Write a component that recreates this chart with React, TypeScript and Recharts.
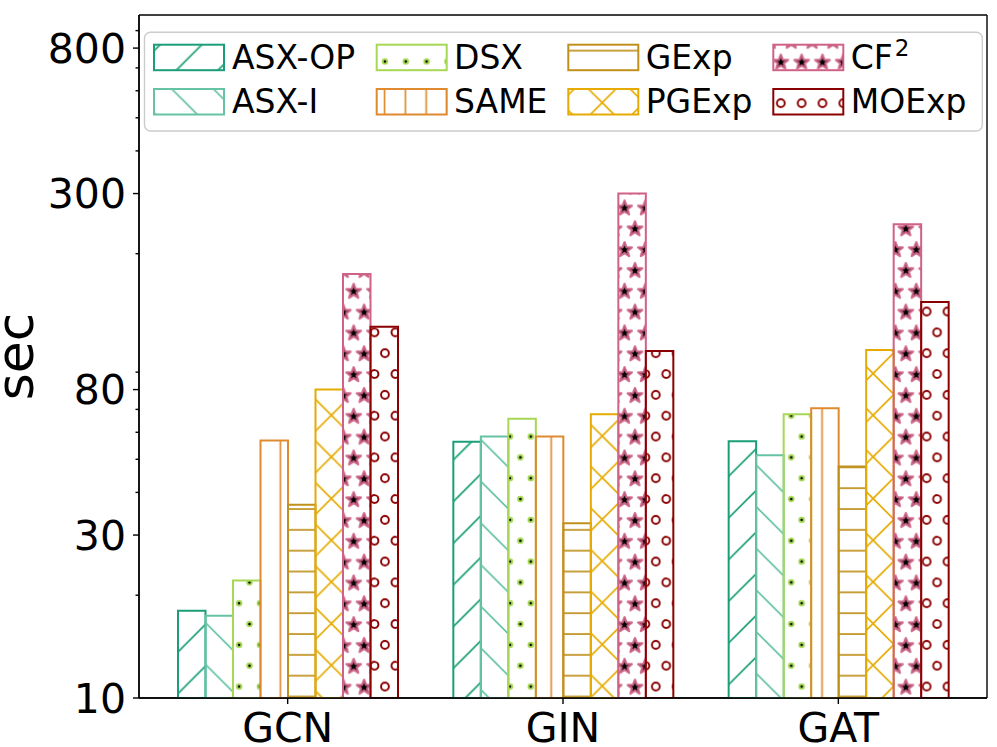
import React from 'react';
import { BarChart, Bar, XAxis, YAxis, CartesianGrid } from 'recharts';

const W = 997;
const H = 747;
const FONT = 'DejaVu Sans';

// values (seconds)
const categories = ['GCN', 'GIN', 'GAT'];
const asxOp = [18.0, 56.3, 56.5];
const asxI = [17.4, 58.3, 51.4];
const dsx = [22.1, 65.7, 67.7];
const same = [56.8, 58.3, 70.5];
const gexp = [36.8, 32.5, 47.6];
const pgexp = [80.1, 67.7, 104.4];
const cf2 = [174.3, 300.2, 244.1];
const moexp = [122.2, 103.7, 144.3];

const majorTicks = [10, 30, 80, 300, 800];
const minorTicks = [20, 40, 50, 60, 70, 90, 200, 400, 500, 600, 700, 900];

type Hatch = 'ne' | 'se' | 'dot' | 'vert' | 'horiz' | 'cross' | 'star' | 'ring';

const series: { key: string; name: string; sup?: string; color: string; hatch: Hatch; values: number[] }[] = [
  { key: 'asxOp', name: 'ASX-OP', color: '#1b9e77', hatch: 'ne', values: asxOp },
  { key: 'asxI', name: 'ASX-I', color: '#66c2a5', hatch: 'se', values: asxI },
  { key: 'dsx', name: 'DSX', color: '#a6d854', hatch: 'dot', values: dsx },
  { key: 'same', name: 'SAME', color: '#df8a2e', hatch: 'vert', values: same },
  { key: 'gexp', name: 'GExp', color: '#c0901c', hatch: 'horiz', values: gexp },
  { key: 'pgexp', name: 'PGExp', color: '#e6ab02', hatch: 'cross', values: pgexp },
  { key: 'cf2', name: 'CF', sup: '2', color: '#cf6285', hatch: 'star', values: cf2 },
  { key: 'moexp', name: 'MOExp', color: '#8b0000', hatch: 'ring', values: moexp },
];

const data = categories.map((name, i) => {
  const row: Record<string, string | number> = { name };
  series.forEach((s) => { row[s.key] = s.values[i]; });
  return row;
});

// hatch geometry (figure-aligned, like matplotlib)
const P = 41.67;
const Q = P / 2;
const OX = -0.5;
const OY = -1;
const NE_PHASE = -3.5;
const SE_PHASE = -0.5;
const V_PHASE = 9.5;
const H_PHASE = 9;
const HW = 1.7;

function latticePoints() {
  const pts: [number, number][] = [];
  for (let i = -1; i <= 1; i++) {
    for (let j = -1; j <= 1; j++) {
      pts.push([OX + i * Q, OY + j * P]);
      pts.push([OX + Q / 2 + i * Q, OY + P / 2 + j * P]);
    }
  }
  return pts;
}

function starPath(cx: number, cy: number, R: number, r: number) {
  let d = '';
  for (let k = 0; k < 10; k++) {
    const a = -Math.PI / 2 + (k * Math.PI) / 5;
    const rad = k % 2 === 0 ? R : r;
    d += `${k === 0 ? 'M' : 'L'}${(cx + rad * Math.cos(a)).toFixed(2)},${(cy + rad * Math.sin(a)).toFixed(2)}`;
  }
  return d + 'Z';
}

function neLines(color: string) {
  const out = [];
  for (let k = -2; k <= 3; k++) {
    const c = NE_PHASE + k * P;
    out.push(<line key={'ne' + k} x1={-5} y1={c + 5} x2={P + 5} y2={c - P - 5} stroke={color} strokeWidth={HW} />);
  }
  return out;
}

function seLines(color: string) {
  const out = [];
  for (let k = -2; k <= 2; k++) {
    const c = SE_PHASE + k * P;
    out.push(<line key={'se' + k} x1={-5} y1={-5 - c} x2={P + 5} y2={P + 5 - c} stroke={color} strokeWidth={HW} />);
  }
  return out;
}

function HatchPattern({ id, color, hatch }: { id: string; color: string; hatch: Hatch }) {
  const common = { id, patternUnits: 'userSpaceOnUse' as const, x: 0, y: 0 };
  if (hatch === 'ne') return <pattern {...common} width={P} height={P}>{neLines(color)}</pattern>;
  if (hatch === 'se') return <pattern {...common} width={P} height={P}>{seLines(color)}</pattern>;
  if (hatch === 'cross') return <pattern {...common} width={P} height={P}>{neLines(color)}{seLines(color)}</pattern>;
  if (hatch === 'vert')
    return (
      <pattern {...common} width={Q} height={Q}>
        <line x1={V_PHASE} y1={-1} x2={V_PHASE} y2={Q + 1} stroke={color} strokeWidth={HW} />
      </pattern>
    );
  if (hatch === 'horiz')
    return (
      <pattern {...common} width={Q} height={Q}>
        <line x1={-1} y1={H_PHASE} x2={Q + 1} y2={H_PHASE} stroke={color} strokeWidth={HW} />
      </pattern>
    );
  const pts = latticePoints();
  if (hatch === 'dot')
    return (
      <pattern {...common} width={Q} height={P}>
        {pts.map(([x, y], i) => <circle key={i} cx={x} cy={y} r={2.3} fill="#000" stroke={color} strokeWidth={2} />)}
      </pattern>
    );
  if (hatch === 'ring')
    return (
      <pattern {...common} width={Q} height={P}>
        {pts.map(([x, y], i) => <circle key={i} cx={x} cy={y} r={3.9} fill="none" stroke={color} strokeWidth={1.9} />)}
      </pattern>
    );
  return (
    <pattern {...common} width={Q} height={P}>
      {pts.map(([x, y], i) => (
        <path key={i} d={starPath(x, y + 0.8, 7.6, 3.2)} fill="#000" stroke={color} strokeOpacity={0.9} strokeWidth={2.4} strokeLinejoin="round" />
      ))}
    </pattern>
  );
}

const YTick = (props: any) => {
  const { x, y, payload } = props;
  const v = payload.value;
  const major = majorTicks.includes(v);
  const ax = x + 13;
  return (
    <g>
      <line x1={ax - (major ? 6 : 3.5)} x2={ax} y1={y} y2={y} stroke="#000" strokeWidth={1.4} />
      {major && (
        <text x={x} y={y} dy="0.355em" textAnchor="end" fontSize={41} fontFamily={FONT} fill="#000">
          {v}
        </text>
      )}
    </g>
  );
};

const SecLabel = (props: any) => {
  const vb = props.viewBox;
  const cx = vb.x + 33;
  const cy = vb.y + vb.height / 2;
  return (
    <text x={cx} y={cy} transform={`rotate(-90 ${cx} ${cy})`} textAnchor="middle" fontSize={52} fontFamily={FONT} fill="#000">
      sec
    </text>
  );
};

// plot frame: lines at the edges of the plotting area
const frameH = ({ offset }: any) => [offset.top, offset.top + offset.height];
const frameV = ({ offset }: any) => [offset.left, offset.left + offset.width];

// legend layout (matplotlib ncol=4, column-major)
const legendPatchX = [154, 376.7, 568.3, 773.3];
const legendTextX = [232, 454, 645.7, 850.7];
const legendRowY = [44.7, 89];

const LegendOverlay = () => (
  <svg width={W} height={H} style={{ position: 'absolute', left: 0, top: 0, pointerEvents: 'none' }}>
    <defs>
      {series.map((s) => (
        <HatchPattern key={s.key} id={`hatch-${s.key}`} color={s.color} hatch={s.hatch} />
      ))}
    </defs>
    <rect x={144.5} y={32.3} width={837.8} height={98.7} rx={6} fill="#fff" fillOpacity={0.8} stroke="#cccccc" strokeWidth={1.4} />
    {series.map((s, i) => {
      const col = Math.floor(i / 2);
      const row = i % 2;
      const py = legendRowY[row];
      return (
        <g key={s.key}>
          <rect x={legendPatchX[col]} y={py} width={70} height={25.5} fill={`url(#hatch-${s.key})`} stroke={s.color} strokeWidth={2} />
          <text x={legendTextX[col]} y={py + 12.75} dy="0.355em" fontSize={33} fontFamily={FONT} fill="#000">
            {s.name}
            {s.sup && (
              <tspan dx={2} dy={-13} fontSize={23}>
                {s.sup}
              </tspan>
            )}
          </text>
        </g>
      );
    })}
  </svg>
);

export default function App() {
  const axisStroke = { stroke: '#000', strokeWidth: 1.4 };
  return (
    <div style={{ position: 'absolute', left: 0, top: 0, width: W, height: H, background: '#fff' }}>
      <BarChart width={W} height={H} data={data} margin={{ top: 15, right: 10, bottom: 0, left: 0 }} barGap={0} barSize={27.5}>
        <CartesianGrid
          stroke="#000"
          strokeWidth={1.4}
          horizontalCoordinatesGenerator={frameH}
          verticalCoordinatesGenerator={frameV}
        />
        <XAxis
          dataKey="name"
          height={49}
          padding={{ left: 11, right: 11 }}
          tickSize={6}
          tickMargin={9}
          tick={{ fill: '#000', fontSize: 41, fontFamily: FONT }}
          tickLine={axisStroke}
          axisLine={axisStroke}
        />
        <YAxis
          type="number"
          scale="log"
          domain={[10, 1000]}
          allowDataOverflow
          ticks={[...majorTicks, ...minorTicks].sort((a, b) => a - b)}
          interval={0}
          width={139}
          tickSize={6}
          tickMargin={7}
          tickLine={false}
          tick={<YTick />}
          axisLine={axisStroke}
          label={<SecLabel />}
        />
        {series.map((s) => (
          <Bar key={s.key} dataKey={s.key} name={s.name} fill={`url(#hatch-${s.key})`} stroke={s.color} strokeWidth={2} isAnimationActive={false} />
        ))}
      </BarChart>
      <LegendOverlay />
    </div>
  );
}
